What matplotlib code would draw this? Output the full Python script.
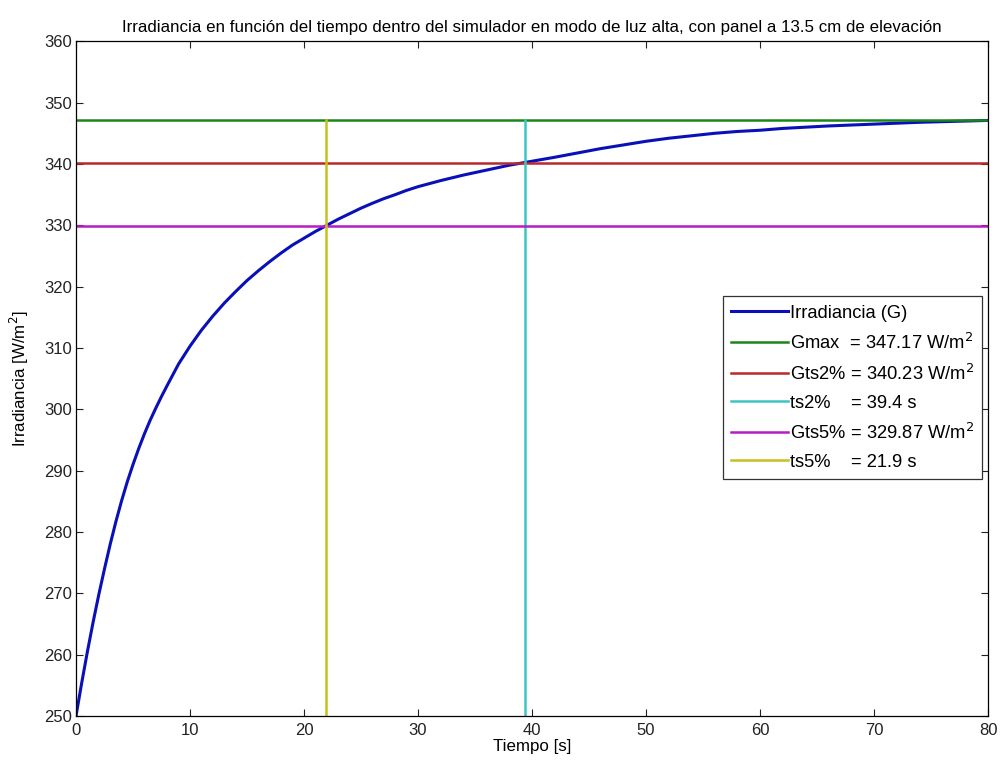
import matplotlib
matplotlib.use("Agg")
import matplotlib.pyplot as plt

plt.rcParams['font.family'] = ['Liberation Sans', 'DejaVu Sans']

# irradiance curve
t = [0, 0.5, 1, 1.5, 2, 2.5, 3, 3.5, 4, 4.5, 5, 5.5, 6, 6.5, 7, 7.5, 8, 9, 10,
     11, 12, 13, 14, 15, 16, 17, 18, 19, 20, 21, 22, 23, 24, 25, 26, 27, 28,
     29, 30, 32, 34, 36, 38, 40, 42, 44, 46, 48, 50, 52, 54, 56, 58, 60, 62,
     64, 66, 68, 70, 72, 74, 76, 78, 80]
G = [250.0, 255.4, 260.5, 265.3, 269.8, 274.0, 278.0, 281.7, 285.1, 288.2,
     291.0, 293.6, 296.0, 298.2, 300.2, 302.1, 303.9, 307.4, 310.3, 312.9,
     315.2, 317.3, 319.2, 321.0, 322.6, 324.1, 325.5, 326.8, 327.9, 329.0,
     330.0, 331.0, 331.9, 332.8, 333.6, 334.35, 335.0, 335.7, 336.3, 337.3,
     338.2, 339.0, 339.8, 340.45, 341.1, 341.8, 342.5, 343.1, 343.7, 344.2,
     344.6, 345.0, 345.3, 345.5, 345.8, 346.0, 346.2, 346.35, 346.5, 346.65,
     346.8, 346.9, 347.0, 347.1]

Gmax = 347.17
Gts2 = 340.23
ts2 = 39.4
Gts5 = 329.87
ts5 = 21.9

x_lim = [0, 80]
y_lim = [250, 360]

fig = plt.figure(figsize=(10, 7.65), dpi=100)
ax = fig.add_axes([0.076, 0.064, 0.912, 0.882])

ax.plot(t, G, color='#0a10b8', lw=2.2, label='Irradiancia (G)')
ax.plot(x_lim, [Gmax, Gmax], color='#1a861a', lw=1.8,
        label='Gmax  = %.2f W/m$^2$' % Gmax)
ax.plot(x_lim, [Gts2, Gts2], color='#b8282c', lw=1.8,
        label='Gts2%% = %.2f W/m$^2$' % Gts2)
ax.plot([ts2, ts2], [y_lim[0], Gmax], color='#3cc4c4', lw=1.8,
        label='ts2%%    = %.1f s' % ts2)
ax.plot(x_lim, [Gts5, Gts5], color='#b81cc4', lw=1.8,
        label='Gts5%% = %.2f W/m$^2$' % Gts5)
ax.plot([ts5, ts5], [y_lim[0], Gmax], color='#c8c020', lw=1.8,
        label='ts5%%    = %.1f s' % ts5)

ax.set_xlim(x_lim)
ax.set_ylim(y_lim)
ax.set_xticks(range(0, 81, 10))
ax.set_yticks(range(250, 361, 10))
ax.tick_params(direction='in', top=True, right=True, labelsize=12,
               length=5, width=0.8, colors='#222222')
ax.tick_params(axis='x', pad=5)
ax.tick_params(axis='y', pad=3)
for s in ax.spines.values():
    s.set_linewidth(0.9)

ax.set_title('Irradiancia en función del tiempo dentro del simulador en modo de luz alta, '
             'con panel a 13.5 cm de elevación', fontsize=12.2, pad=7)
ax.set_xlabel('Tiempo [s]', fontsize=12.2, labelpad=1)
ax.set_ylabel('Irradiancia [W/m$^2$]', fontsize=12.2, labelpad=9)

leg = ax.legend(loc='upper left', bbox_to_anchor=(0.709, 0.622), fontsize=13.2,
                handlelength=3.1, handletextpad=0.1, borderpad=0.45,
                labelspacing=0.6, fancybox=False, framealpha=1,
                borderaxespad=0)
leg.get_frame().set_edgecolor('#333333')
leg.get_frame().set_linewidth(0.9)

fig.savefig('out.png', dpi=100)
